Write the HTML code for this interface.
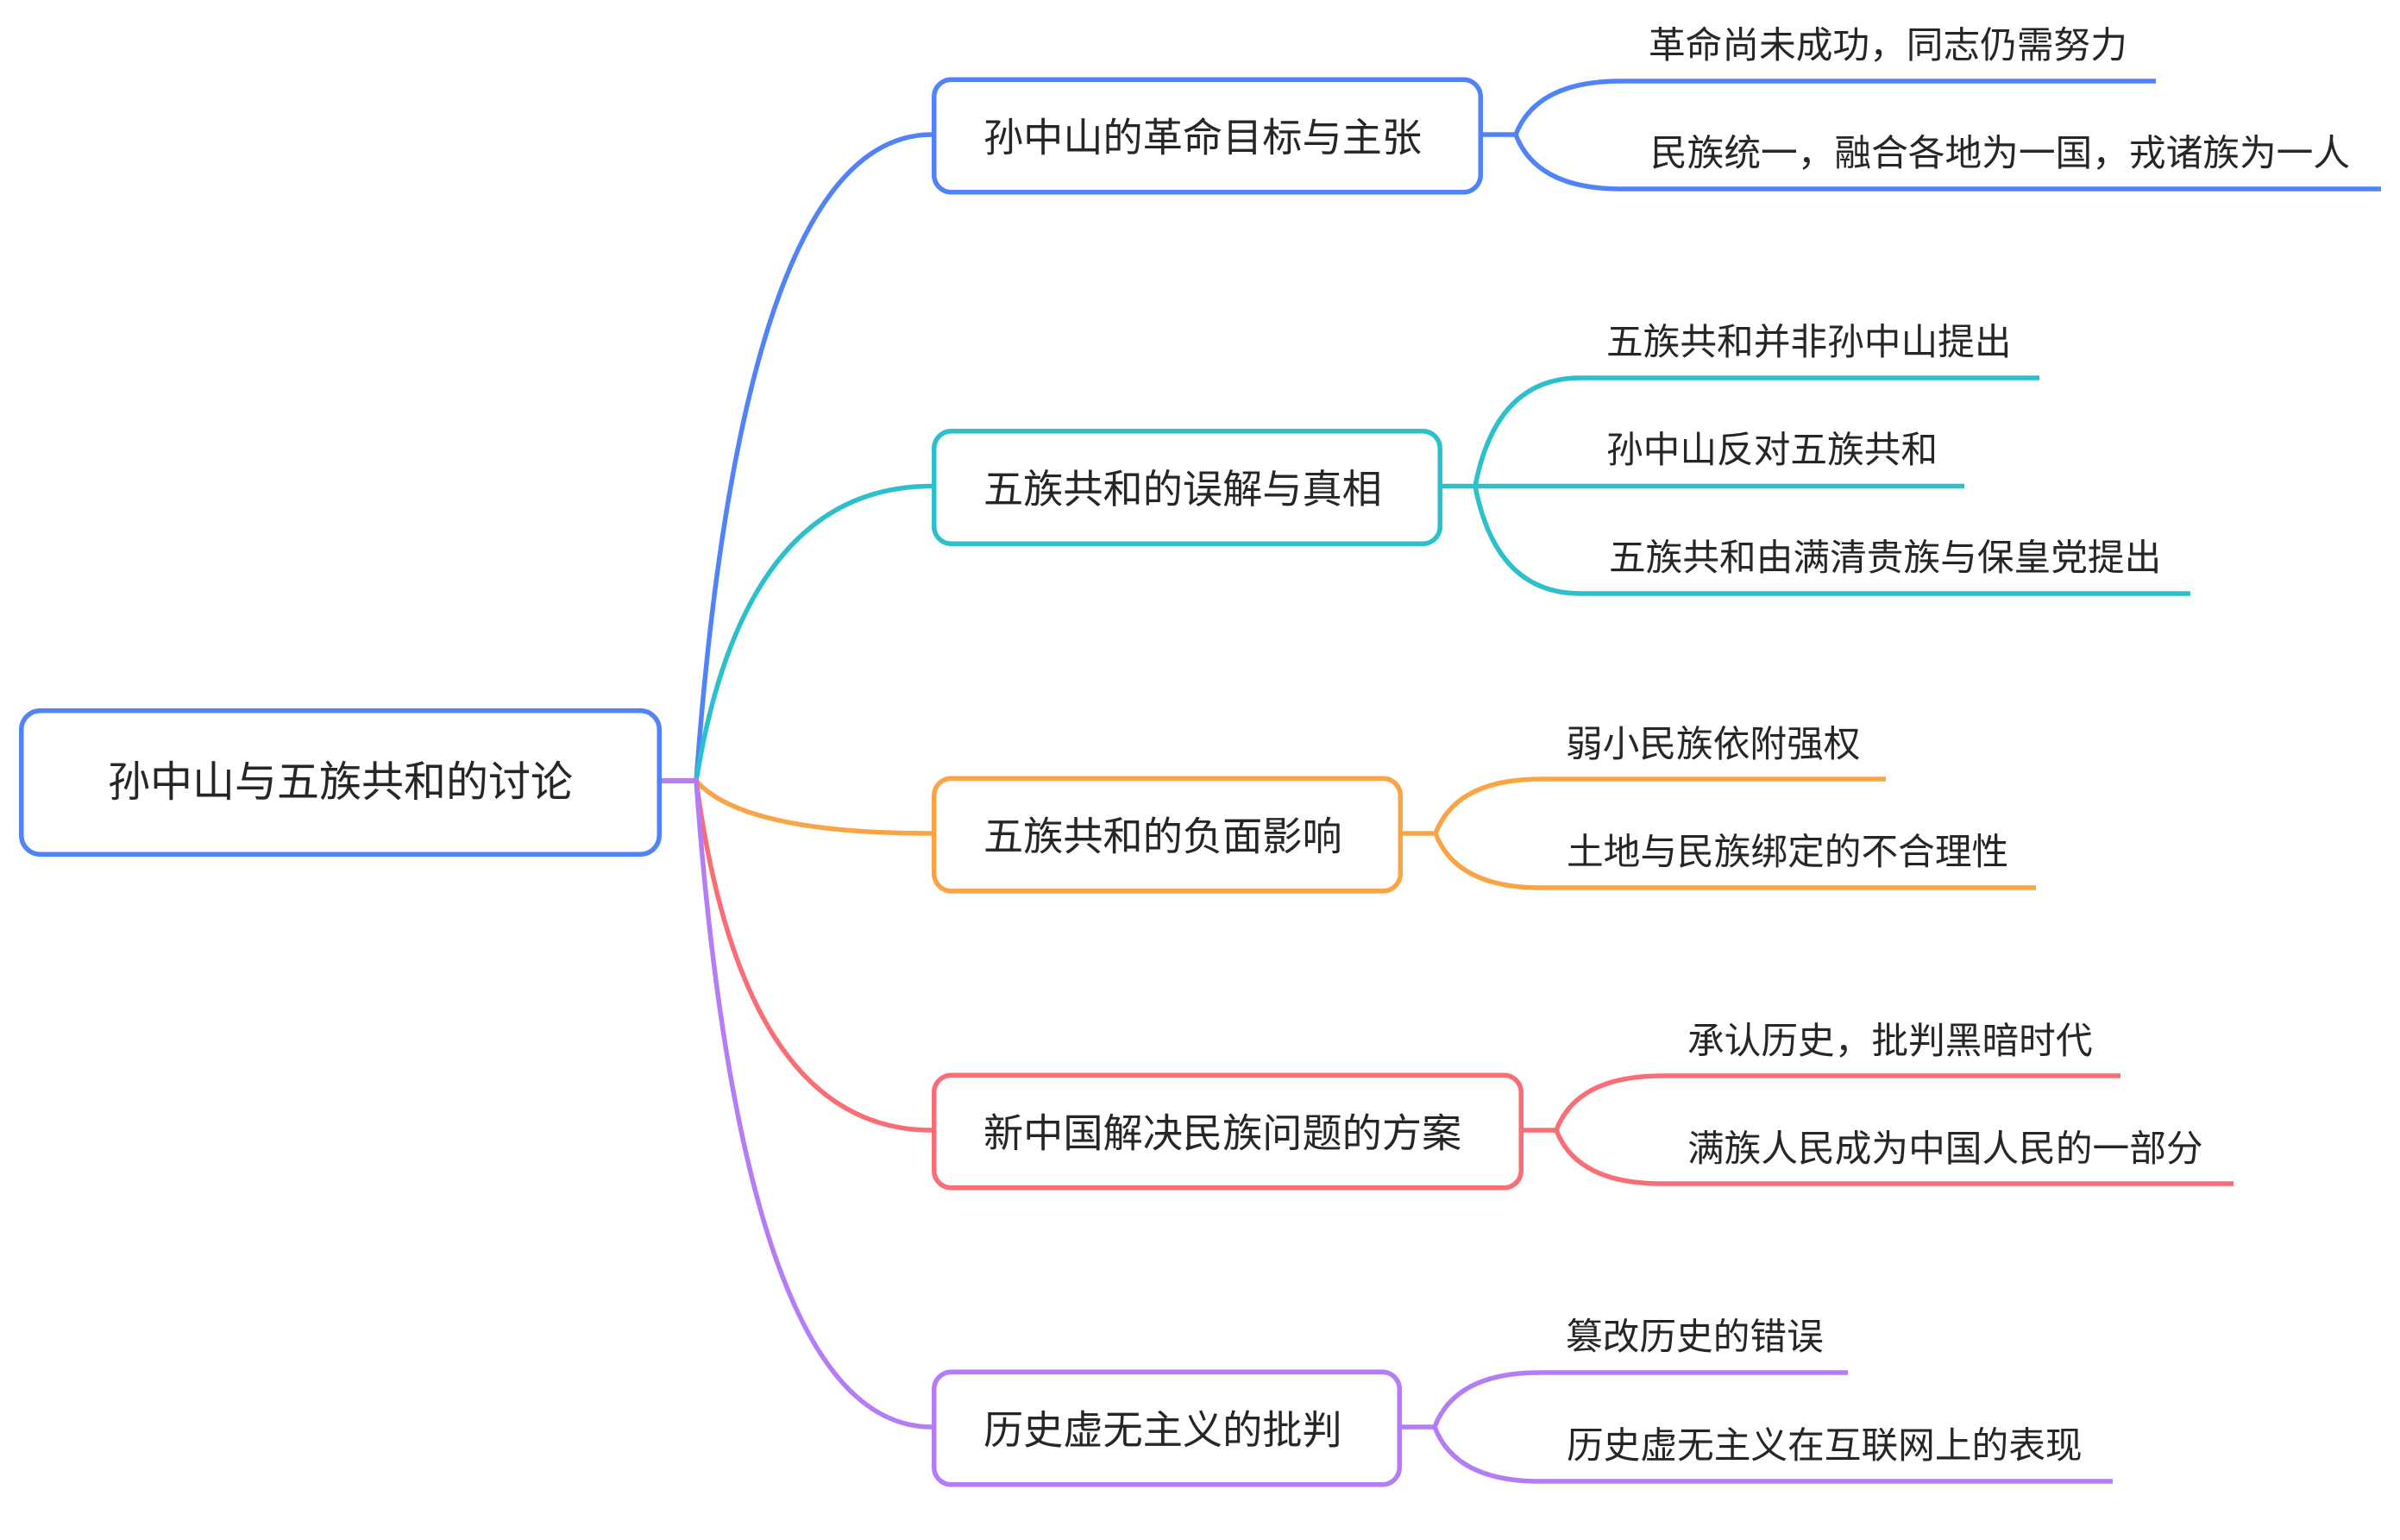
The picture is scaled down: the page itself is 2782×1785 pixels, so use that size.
<!DOCTYPE html>
<html>
<head>
<meta charset="utf-8">
<style>
  html,body{margin:0;padding:0;background:#ffffff;}
  svg{display:block;}
  text{font-family:"Liberation Sans","Noto Sans CJK SC",sans-serif;fill:#262626;}
</style>
</head>
<body>
<svg width="2782" height="1785" viewBox="0 0 2782 1785" xmlns="http://www.w3.org/2000/svg">
  <rect x="0" y="0" width="2782" height="1785" fill="#ffffff"/>
  <g fill="none" stroke-width="5.5" stroke-linecap="butt">
    <!-- root to branches -->
    <path d="M767 905 H807 Q862 156 1080 156" stroke="#5083F9"/>
    <path d="M767 905 H807 Q862 563.5 1080 563.5" stroke="#2CBFCC"/>
    <path d="M767 905 H807 Q861 966 1080 966" stroke="#F9A445"/>
    <path d="M767 905 H807 Q861 1310 1080 1310" stroke="#F96E75"/>
    <path d="M767 905 H807 Q861 1654 1080 1654" stroke="#B57CF7"/>

    <!-- branch 1 leaves -->
    <path d="M1719 156 H1757 Q1781 94 1879 94 H2499" stroke="#5083F9"/>
    <path d="M1757 156 Q1781 219 1879 219 H2760" stroke="#5083F9"/>
    <!-- branch 2 leaves -->
    <path d="M1672 563.5 H1710 Q1734 438 1832 438 H2364" stroke="#2CBFCC"/>
    <path d="M1710 563.5 H2277" stroke="#2CBFCC"/>
    <path d="M1710 563.5 Q1734 688 1832 688 H2539" stroke="#2CBFCC"/>
    <!-- branch 3 leaves -->
    <path d="M1626 966 H1664 Q1688 903 1786 903 H2186" stroke="#F9A445"/>
    <path d="M1664 966 Q1688 1029 1786 1029 H2360" stroke="#F9A445"/>
    <!-- branch 4 leaves -->
    <path d="M1766 1310 H1804 Q1828 1247 1926 1247 H2458" stroke="#F96E75"/>
    <path d="M1804 1310 Q1828 1372 1926 1372 H2589" stroke="#F96E75"/>
    <!-- branch 5 leaves -->
    <path d="M1625 1654 H1663 Q1687 1591 1785 1591 H2142" stroke="#B57CF7"/>
    <path d="M1663 1654 Q1687 1717 1785 1717 H2449" stroke="#B57CF7"/>
  </g>

  <!-- root -->
  <rect x="24.75" y="823.75" width="739.5" height="166.5" rx="22" ry="22" fill="#ffffff" stroke="#5083F9" stroke-width="5.5"/>
  <text x="394.5" y="907" font-size="49" text-anchor="middle" dominant-baseline="central">孙中山与五族共和的讨论</text>

  <!-- branch boxes -->
  <rect x="1082.75" y="92.25" width="633.5" height="130.5" rx="20" ry="20" fill="#ffffff" stroke="#5083F9" stroke-width="5.5"/>
  <text x="1140" y="159.5" font-size="46.2" dominant-baseline="central">孙中山的革命目标与主张</text>

  <rect x="1082.75" y="499.75" width="586.5" height="130.5" rx="20" ry="20" fill="#ffffff" stroke="#2CBFCC" stroke-width="5.5"/>
  <text x="1140" y="567" font-size="46.2" dominant-baseline="central">五族共和的误解与真相</text>

  <rect x="1082.75" y="902.25" width="540.5" height="130.5" rx="20" ry="20" fill="#ffffff" stroke="#F9A445" stroke-width="5.5"/>
  <text x="1140" y="969.5" font-size="46.2" dominant-baseline="central">五族共和的负面影响</text>

  <rect x="1082.75" y="1246.25" width="680.5" height="130.5" rx="20" ry="20" fill="#ffffff" stroke="#F96E75" stroke-width="5.5"/>
  <text x="1140" y="1313.5" font-size="46.2" dominant-baseline="central">新中国解决民族问题的方案</text>

  <rect x="1082.75" y="1590.25" width="539.5" height="130.5" rx="20" ry="20" fill="#ffffff" stroke="#B57CF7" stroke-width="5.5"/>
  <text x="1140" y="1657.5" font-size="46.2" dominant-baseline="central">历史虚无主义的批判</text>

  <!-- leaf texts -->
  <g font-size="42.7">
    <text x="1911" y="53" dominant-baseline="central">革命尚未成功，同志仍需努力</text>
    <text x="1913" y="178" dominant-baseline="central">民族统一，融合各地为一国，戎诸族为一人</text>

    <text x="1862" y="397" dominant-baseline="central">五族共和并非孙中山提出</text>
    <text x="1862" y="522" dominant-baseline="central">孙中山反对五族共和</text>
    <text x="1865" y="647" dominant-baseline="central">五族共和由满清贵族与保皇党提出</text>

    <text x="1815" y="863" dominant-baseline="central">弱小民族依附强权</text>
    <text x="1816" y="988" dominant-baseline="central">土地与民族绑定的不合理性</text>

    <text x="1956" y="1207" dominant-baseline="central">承认历史，批判黑暗时代</text>
    <text x="1956" y="1332" dominant-baseline="central">满族人民成为中国人民的一部分</text>

    <text x="1815" y="1550" dominant-baseline="central">篡改历史的错误</text>
    <text x="1816" y="1676" dominant-baseline="central">历史虚无主义在互联网上的表现</text>
  </g>
</svg>
</body>
</html>
